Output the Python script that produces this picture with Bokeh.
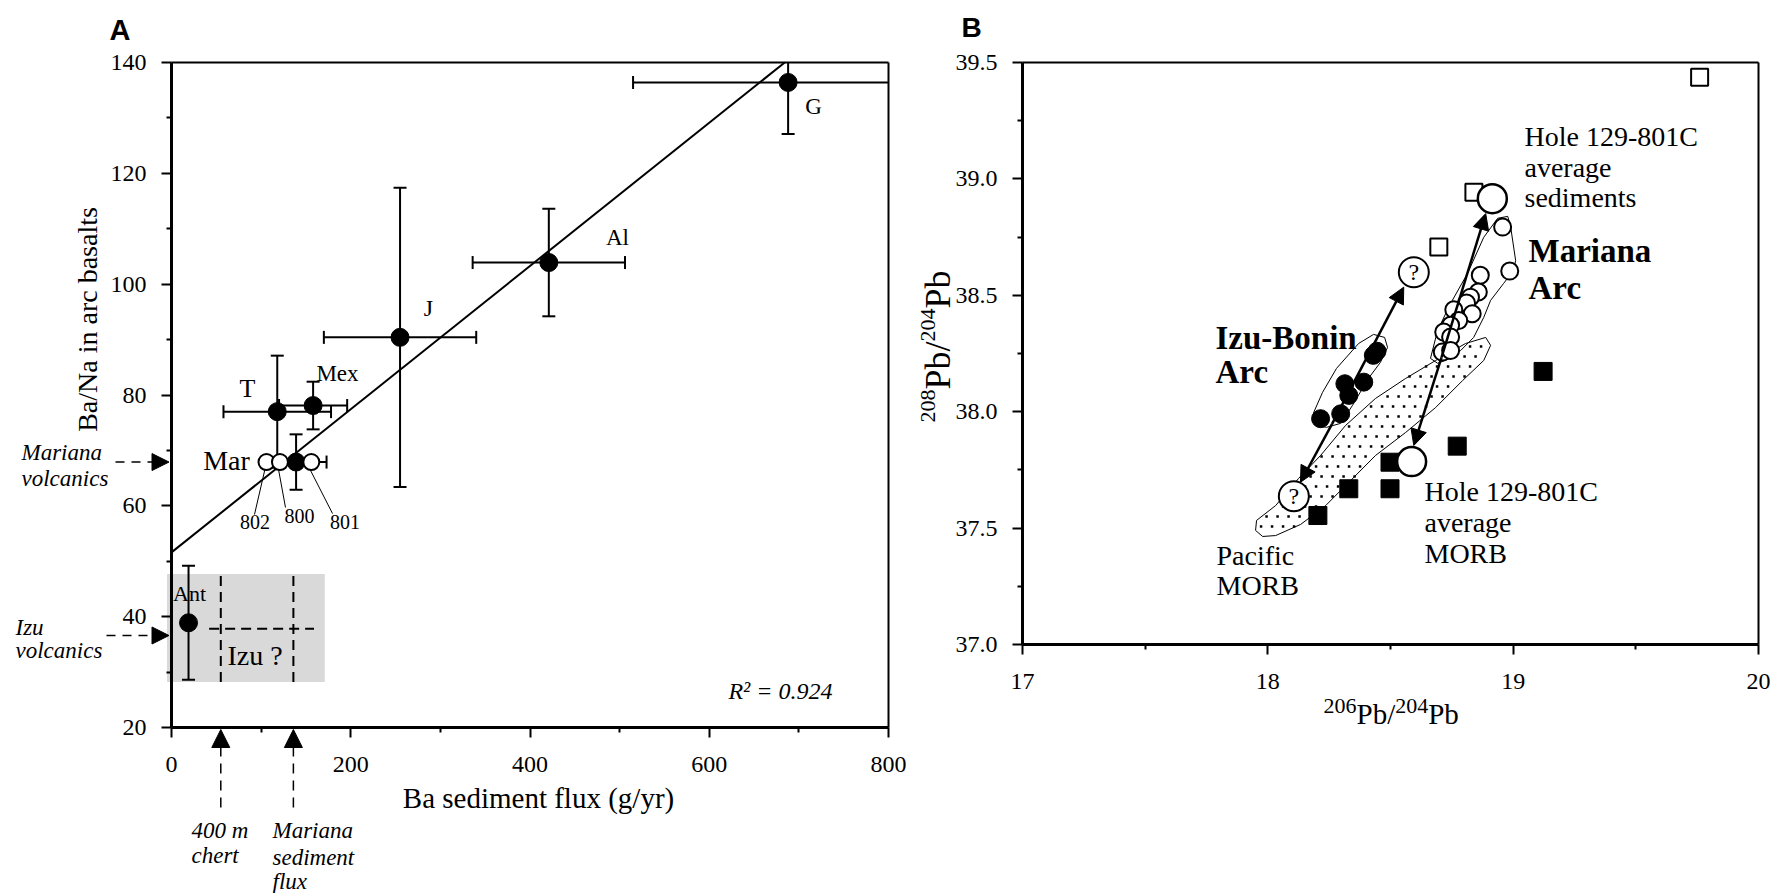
import numpy as np
from bokeh.plotting import figure
from bokeh.models import (Arrow, NormalHead, Range1d, FixedTicker, LinearAxis,
                          PrintfTickFormatter)
from bokeh.layouts import row
from bokeh.embed import file_html
from bokeh.resources import INLINE
from bokeh.core.properties import value

SERIF = "Liberation Serif"
SANS = "Liberation Sans"

# ===================== Panel A data =====================
arc_names   = ["G", "Al", "J", "T", "Mex", "Mar", "Ant"]
ba_flux     = [688, 421, 255, 118, 158, 139, 19]          # Ba sediment flux (g/yr)
ba_flux_err = [173, 85, 85, 60, 38, 34, np.nan]
ba_na       = [136.4, 103.9, 90.4, 77.0, 78.1, 67.9, 38.9]  # Ba/Na in arc basalts
ba_na_err   = [9.3, 9.7, 27.0, 10.1, 4.3, 5.0, 10.3]

site_names = ["802", "800", "801"]
site_flux  = [106, 121, 156]
site_ba_na = [67.9, 67.9, 67.9]

fit_intercept = 51.6
fit_slope = 0.1292
fit_r2 = 0.924

izu_box_flux = [-5, 171]
izu_box_ba_na = [28.2, 47.7]
chert_flux = 55
mariana_sed_flux = 136
izu_est_ba_na = 37.8
izu_est_flux_span = [42, 159]
mariana_volc_ba_na = 67.9
izu_volc_ba_na = 36.6

xticks_A = [0, 200, 400, 600, 800]
xminor_A = [100, 300, 500, 700]
yticks_A = [20, 40, 60, 80, 100, 120, 140]
yminor_A = [30, 50, 70, 90, 110, 130]

# ===================== Panel B data =====================
izu_pb206 = [18.445, 18.430, 18.391, 18.314, 18.330, 18.297, 18.215]
izu_pb208 = [38.260, 38.242, 38.127, 38.120, 38.070, 37.991, 37.970]

mariana_pb206 = [18.957, 18.986, 18.866, 18.858, 18.826, 18.810, 18.833,
                 18.758, 18.778, 18.745, 18.717, 18.745, 18.711, 18.745]
mariana_pb208 = [38.793, 38.604, 38.586, 38.514, 38.492, 38.467, 38.421,
                 38.438, 38.392, 38.371, 38.342, 38.321, 38.256, 38.263]

morb801_pb206 = [19.122, 18.772, 18.498, 18.498, 18.330, 18.204]
morb801_pb208 = [38.173, 37.852, 37.783, 37.669, 37.669, 37.554]

sed801_pb206 = [19.760, 18.840, 18.697]
sed801_pb208 = [39.437, 38.943, 38.707]

avg_pb206 = [18.915, 18.586]     # Hole 129-801C: average sediments, average MORB
avg_pb208 = [38.915, 37.786]

unknown_pb206 = [18.595, 18.106]
unknown_pb208 = [38.599, 37.637]

izu_field_x = [18.187, 18.223, 18.280, 18.370, 18.431, 18.476, 18.488, 18.459,
               18.410, 18.345, 18.297, 18.240, 18.195]
izu_field_y = [37.997, 38.083, 38.186, 38.293, 38.332, 38.319, 38.276, 38.212,
               38.143, 38.027, 37.950, 37.933, 37.941]

mariana_field_x = [18.663, 18.692, 18.745, 18.814, 18.880, 18.937, 18.978, 18.990,
                   19.010, 19.002, 18.961, 18.908, 18.880, 18.839, 18.786, 18.745, 18.692]
mariana_field_y = [38.229, 38.349, 38.465, 38.594, 38.749, 38.831, 38.839, 38.792,
                   38.650, 38.607, 38.551, 38.478, 38.405, 38.319, 38.263, 38.229, 38.208]

pacific_field_x = [17.954, 18.032, 18.125, 18.215, 18.317, 18.439, 18.562, 18.684,
                   18.806, 18.888, 18.908, 18.880, 18.794, 18.684, 18.562, 18.439,
                   18.338, 18.236, 18.134, 18.032, 17.979, 17.950]
pacific_field_y = [37.533, 37.597, 37.713, 37.812, 37.941, 38.057, 38.143, 38.220,
                   38.293, 38.319, 38.285, 38.220, 38.134, 38.018, 37.911, 37.812,
                   37.705, 37.597, 37.516, 37.468, 37.464, 37.490]

xticks_B = [17, 18, 19, 20]
xminor_B = [17.5, 18.5, 19.5]
yticks_B = [37.0, 37.5, 38.0, 38.5, 39.0, 39.5]
yminor_B = [37.25, 37.75, 38.25, 38.75, 39.25]

# ===================== layout (pixels) =====================
H = 893
A_W = 910
B_W = 861


class Frame:
    """Maps page pixel positions to data coordinates for one panel."""
    def __init__(self, x0, x1, y0, y1, left, right, top, bottom, offset, width):
        self.x0, self.x1, self.y0, self.y1 = x0, x1, y0, y1
        self.left, self.top = left, top
        self.sx = (right - left) / (x1 - x0)
        self.sy = (bottom - top) / (y1 - y0)
        self.xr = Range1d(self.xd(offset), self.xd(offset + width))
        self.yr = Range1d(self.yd(H), self.yd(0))

    def xd(self, X):
        return self.x0 + (X - self.left) / self.sx

    def yd(self, Y):
        return self.y1 - (Y - self.top) / self.sy


fA = Frame(xticks_A[0], xticks_A[-1], yticks_A[0], yticks_A[-1], 171, 888, 62, 727, 0, A_W)
fB = Frame(xticks_B[0], xticks_B[-1], yticks_B[0], yticks_B[-1], 1022, 1758, 62, 644, A_W, B_W)


def new_fig(fr, width):
    p = figure(width=width, height=H, x_range=fr.xr, y_range=fr.yr,
               output_backend="svg", toolbar_location=None, title=None,
               x_axis_location=None, y_axis_location=None,
               min_border=0, min_border_left=0, min_border_right=0,
               min_border_top=0, min_border_bottom=0)
    p.grid.visible = False
    p.outline_line_color = None
    p.background_fill_color = "white"
    p.border_fill_color = "white"
    return p


def add_axis(p, side, loc, bounds, ticks, minor, standoff, fmt=None):
    ax = LinearAxis(fixed_location=loc, bounds=bounds,
                    ticker=FixedTicker(ticks=ticks, minor_ticks=minor))
    ax.axis_line_width = 3
    ax.axis_line_color = "black"
    ax.major_tick_line_width = 2
    ax.minor_tick_line_width = 2
    ax.major_tick_out = 10
    ax.major_tick_in = 0
    ax.minor_tick_out = 5
    ax.minor_tick_in = 0
    ax.major_label_text_font = SERIF
    ax.major_label_text_font_size = "24px"
    ax.major_label_text_color = "black"
    ax.major_label_standoff = standoff
    if fmt is not None:
        ax.formatter = fmt
    p.add_layout(ax, side)
    return ax


def texts(p, fr, items, size, style="normal", align="left", font=SERIF, angle=0.0,
          baseline="middle"):
    p.text(x=[fr.xd(i[0]) for i in items], y=[fr.yd(i[1]) for i in items],
           text=[i[2] for i in items], text_font=value(font), text_font_size=size,
           text_font_style=style, text_align=align, text_baseline=baseline,
           angle=angle, text_color="black")


CHAR_W = {c: 0.5 for c in "0123456789"}
CHAR_W.update({"P": 0.556, "b": 0.5, "/": 0.278})


def rich(p, fr, X, Y, pieces, vertical=False):
    """pieces: (text, font px, raise px) laid out from (X, Y); superscripts are
    smaller raised runs. (X, Y) is the centre line of the normal-size text."""
    cur = 0.0
    for t, size, rise in pieces:
        if vertical:
            x, y = X - rise, Y - cur
        else:
            x, y = X + cur, Y - rise
        p.text(x=[fr.xd(x)], y=[fr.yd(y)], text=[t], text_font=value(SERIF),
               text_font_size=f"{size}px", text_align="left", text_baseline="middle",
               angle=(np.pi / 2 if vertical else 0.0), text_color="black")
        cur += sum(CHAR_W[c] for c in t) * size


def head(size):
    return NormalHead(size=size, fill_color="black", line_color="black", line_width=1)


# ===================== Panel A =====================
pA = new_fig(fA, A_W)
xmin, xmax = xticks_A[0], xticks_A[-1]
ymin, ymax = yticks_A[0], yticks_A[-1]

pA.quad(left=[izu_box_flux[0]], right=[izu_box_flux[1]], bottom=[izu_box_ba_na[0]],
        top=[izu_box_ba_na[1]], fill_color="#d9d9d9", line_color=None)
pA.segment(x0=[chert_flux, mariana_sed_flux], y0=[izu_box_ba_na[0]] * 2,
           x1=[chert_flux, mariana_sed_flux], y1=[izu_box_ba_na[1]] * 2,
           line_color="black", line_width=2, line_dash="10 6")
pA.segment(x0=[izu_est_flux_span[0]], y0=[izu_est_ba_na], x1=[izu_est_flux_span[1]],
           y1=[izu_est_ba_na], line_color="black", line_width=2, line_dash="10 6")

# frame top/right
pA.segment(x0=[xmin, xmax], y0=[ymax, ymin], x1=[xmax, xmax], y1=[ymax, ymax],
           line_color="black", line_width=2)

# regression line, stopped at the top of the box
x_top = min(xmax, (ymax - fit_intercept) / fit_slope)
fx = np.array([xmin, x_top])
pA.line(fx, fit_intercept + fit_slope * fx, line_color="black", line_width=2)

bx = np.array(ba_flux, float)
bxe = np.array(ba_flux_err, float)
by = np.array(ba_na, float)
bye = np.array(ba_na_err, float)
lo_y, hi_y = by - bye, by + bye
lo_x, hi_x = bx - bxe, bx + bxe
pA.segment(bx, np.maximum(lo_y, ymin), bx, np.minimum(hi_y, ymax), line_color="black",
           line_width=2)
pA.segment(np.maximum(lo_x, xmin), by, np.minimum(hi_x, xmax), by, line_color="black",
           line_width=2)
cap_y = np.r_[lo_y, hi_y]
cap_yx = np.r_[bx, bx]
ok = (cap_y >= ymin) & (cap_y <= ymax)
pA.scatter(cap_yx[ok], cap_y[ok], marker="dash", size=13, line_color="black", line_width=2)
cap_x = np.r_[lo_x, hi_x]
cap_xy = np.r_[by, by]
ok = np.isfinite(cap_x) & (cap_x >= xmin) & (cap_x <= xmax)
pA.scatter(cap_x[ok], cap_xy[ok], marker="dash", angle=np.pi / 2, size=13,
           line_color="black", line_width=2)

# leader lines from ODP sites to their labels
lead_end = [(254, 514), (285, 507), (332, 513)]
pA.segment([fA.xd(fA.left + (x - xmin) * fA.sx - 1.5) for x in site_flux],
           [fA.yd(fA.top + (ymax - y) * fA.sy + 7) for y in site_ba_na],
           [fA.xd(e[0]) for e in lead_end], [fA.yd(e[1]) for e in lead_end],
           line_color="black", line_width=1)

pA.scatter(bx, by, marker="circle", size=18, fill_color="black", line_color="black")
pA.scatter(site_flux, site_ba_na, marker="circle", size=16, fill_color="white",
           line_color="black", line_width=2)

label_px = {"G": (813, 106, "23px"), "Al": (617, 237, "23px"), "J": (428, 307, "24px"),
            "T": (247, 388, "26px"), "Mex": (337, 373, "23px"), "Mar": (226, 460, "28px"),
            "Ant": (189, 593, "22px")}
for name in arc_names:
    X, Y, s = label_px[name]
    texts(pA, fA, [(X, Y, name)], s, align="center")
texts(pA, fA, [(254.5, 521.5, site_names[0]), (299, 515, site_names[1]),
               (344.5, 521.5, site_names[2])], "20px", align="center")
texts(pA, fA, [(254.5, 655, "Izu ?")], "28px", align="center")
texts(pA, fA, [(832, 690, f"R\u00b2 = {fit_r2:.3f}")], "24px", style="italic", align="right")

texts(pA, fA, [(87, 319, "Ba/Na in arc basalts")], "28px", align="center", angle=np.pi / 2)
texts(pA, fA, [(538, 797, "Ba sediment flux (g/yr)")], "29px", align="center")
texts(pA, fA, [(119.5, 29, "A")], "29px", style="bold", align="center", font=SANS)

texts(pA, fA, [(21, 452, "Mariana"), (21, 478, "volcanics"),
               (15, 627, "Izu"), (15, 650, "volcanics"),
               (191, 830, "400 m"), (191, 855, "chert"),
               (272, 830, "Mariana"), (272, 857, "sediment"), (272, 881, "flux")],
      "23px", style="italic")

for yv, X0 in [(mariana_volc_ba_na, 115), (izu_volc_ba_na, 106)]:
    pA.add_layout(Arrow(end=head(17), x_start=fA.xd(X0), y_start=yv, x_end=fA.xd(168.5),
                        y_end=yv, line_color="black", line_width=1.5, line_dash="9 7"))
for xv in [chert_flux, mariana_sed_flux]:
    pA.add_layout(Arrow(end=head(18), x_start=xv, y_start=fA.yd(807), x_end=xv,
                        y_end=fA.yd(729), line_color="black", line_width=1.5,
                        line_dash="10 7"))

add_axis(pA, "below", ymin, (xmin, xmax), xticks_A, xminor_A, 19)
add_axis(pA, "left", xmin, (ymin, ymax), yticks_A, yminor_A, 15)

# ===================== Panel B =====================
pB = new_fig(fB, B_W)
bxmin, bxmax = xticks_B[0], xticks_B[-1]
bymin, bymax = yticks_B[0], yticks_B[-1]


def points_in_poly(px, py, vx, vy):
    vx = np.asarray(vx, float)
    vy = np.asarray(vy, float)
    inside = np.zeros(px.shape, bool)
    j = len(vx) - 1
    for i in range(len(vx)):
        crosses = (vy[i] > py) != (vy[j] > py)
        xint = (vx[j] - vx[i]) * (py - vy[i]) / (vy[j] - vy[i] + 1e-12) + vx[i]
        inside ^= crosses & (px < xint)
        j = i
    return inside


# stipple texture for the Pacific MORB field (staggered grid of small dots)
gx = np.arange(min(pacific_field_x), max(pacific_field_x), 11 / fB.sx)
gy = np.arange(min(pacific_field_y), max(pacific_field_y), 10 / fB.sy)
GX, GY = np.meshgrid(gx, gy)
GX = GX + (np.arange(len(gy))[:, None] % 2) * (5.5 / fB.sx)
GX, GY = GX.ravel(), GY.ravel()
m = points_in_poly(GX, GY, pacific_field_x, pacific_field_y)

pB.patch(pacific_field_x, pacific_field_y, fill_color="white", line_color="black",
         line_width=1)
pB.scatter(GX[m], GY[m], marker="square", size=2.5, fill_color="black", line_color=None)
pB.patch(izu_field_x, izu_field_y, fill_color=None, line_color="black", line_width=1)
pB.patch(mariana_field_x, mariana_field_y, fill_color=None, line_color="black",
         line_width=1)

pB.segment(x0=[bxmin, bxmax], y0=[bymax, bymin], x1=[bxmax, bxmax], y1=[bymax, bymax],
           line_color="black", line_width=2)

pB.scatter(izu_pb206, izu_pb208, marker="circle", size=18, fill_color="black",
           line_color="black")
pB.scatter(mariana_pb206, mariana_pb208, marker="circle", size=17, fill_color="white",
           line_color="black", line_width=2)
pB.scatter(morb801_pb206, morb801_pb208, marker="square", size=18, fill_color="black",
           line_color="black")
pB.scatter(sed801_pb206, sed801_pb208, marker="square", size=17, fill_color="white",
           line_color="black", line_width=2)
pB.scatter(avg_pb206, avg_pb208, marker="circle", size=29, fill_color="white",
           line_color="black", line_width=2.5)
pB.scatter(unknown_pb206, unknown_pb208, marker="circle", size=30, fill_color="white",
           line_color="black", line_width=2)
pB.text(unknown_pb206, unknown_pb208, text=["?", "?"], text_font=value(SERIF),
        text_font_size="24px", text_align="center", text_baseline="middle",
        text_color="black")

arrows_B = [((18.262, 37.948), (18.554, 38.535)),
            ((18.262, 37.948), (18.133, 37.697)),
            ((18.708, 38.233), (18.888, 38.851)),
            ((18.708, 38.233), (18.595, 37.855))]
for (x0, y0), (x1, y1) in arrows_B:
    pB.add_layout(Arrow(end=head(16), x_start=x0, y_start=y0, x_end=x1, y_end=y1,
                        line_color="black", line_width=2.5))

texts(pB, fB, [(1215, 337, "Izu-Bonin"), (1215, 371, "Arc"),
               (1528, 250, "Mariana"), (1528, 287, "Arc")], "33px", style="bold")
texts(pB, fB, [(1524, 136, "Hole 129-801C"), (1524, 167, "average"),
               (1524, 197, "sediments"),
               (1424, 491, "Hole 129-801C"), (1424, 522, "average"), (1424, 553, "MORB"),
               (1216, 555, "Pacific"), (1216, 585, "MORB")], "28px")
texts(pB, fB, [(971, 27, "B")], "28px", style="bold", align="center", font=SANS)

rich(pB, fB, 1323, 713, [("206", 22, 8), ("Pb/", 29, 0), ("204", 22, 8), ("Pb", 29, 0)])
rich(pB, fB, 937, 422, [("208", 22, 10), ("Pb/", 36, 0), ("204", 22, 10), ("Pb", 36, 0)],
     vertical=True)

add_axis(pB, "below", bymin, (bxmin, bxmax), xticks_B, xminor_B, 19)
add_axis(pB, "left", bxmin, (bymin, bymax), yticks_B, yminor_B, 15,
         fmt=PrintfTickFormatter(format="%.1f"))

layout = row(pA, pB)
open("out.html", "w").write(file_html(layout, INLINE))
